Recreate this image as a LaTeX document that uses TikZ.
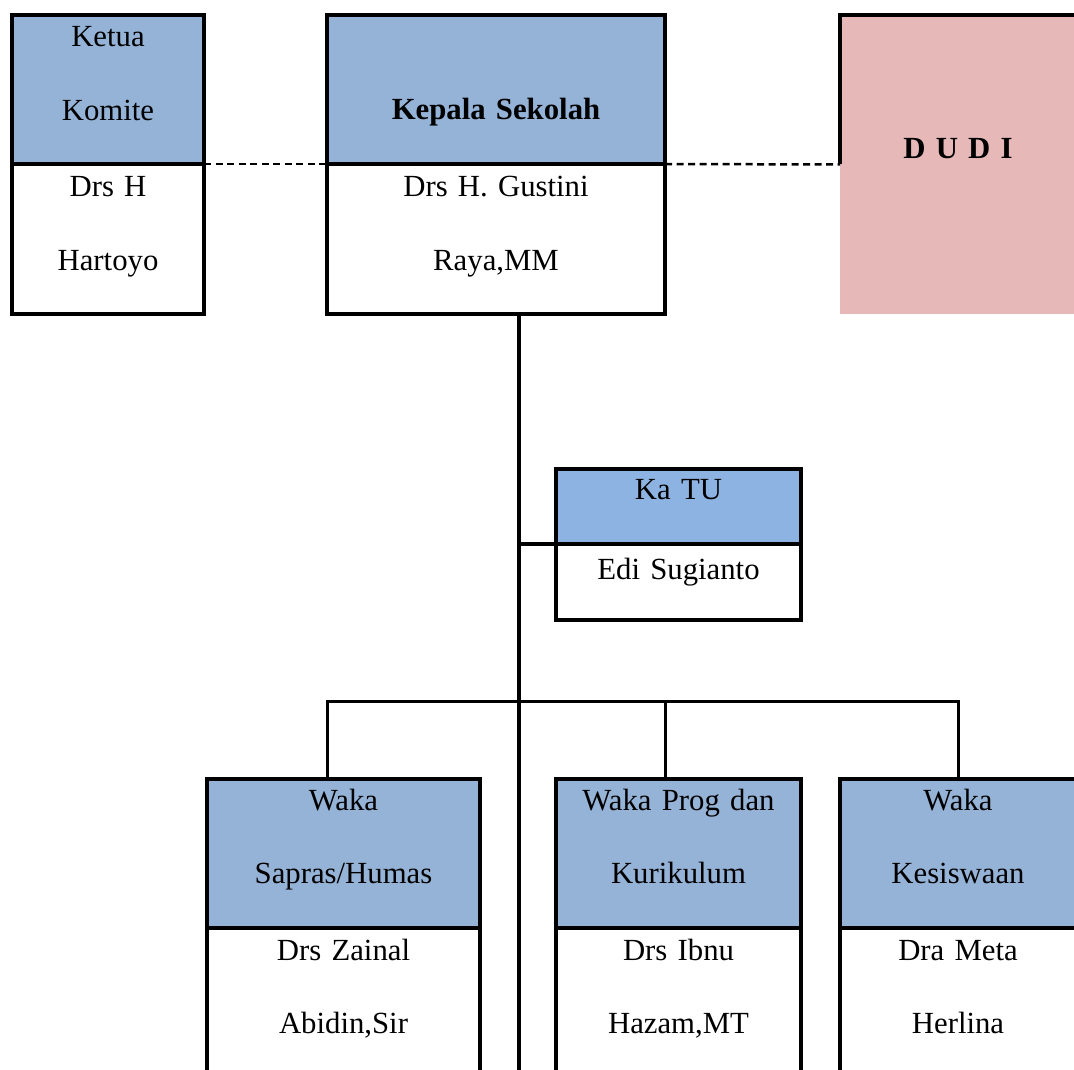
\documentclass[tikz,border=0pt]{standalone}
\usepackage{fontspec}
\setmainfont{Liberation Serif}
\usepackage{tikz}
\usetikzlibrary{positioning,calc}
\usepackage{xcolor}

\newlength{\px}
\setlength{\px}{0.02cm}
\definecolor{jabatan}{RGB}{149,179,215}
\definecolor{jabatantu}{RGB}{141,179,226}
\definecolor{mitra}{RGB}{230,184,183}

\begin{document}
\begin{tikzpicture}[
    x=0.02cm, y=-0.02cm,
    node distance=0pt,
    judul/.style={rectangle,draw,line width=4\px,inner sep=0pt,outer sep=0pt,
                fill=jabatan,minimum height=149\px},
    isi/.style={rectangle,draw,line width=3.5\px,inner sep=0pt,outer sep=0pt,
                fill=white,minimum height=150\px},
    teks/.style={anchor=base,inner sep=0pt,align=center,text width=#1,
                font=\fontsize{17.5}{42}\selectfont},
    garis/.style={line width=4\px},
    bus/.style={line width=3\px},
    putus/.style={line width=2.5\px,dash pattern=on 7\px off 4.5\px}
  ]
    \useasboundingbox (0,0) rectangle (1074,1070);
    \clip (0,0) rectangle (1074,1070);

    % baris atas
    \node[judul,minimum width=192\px,anchor=north] (komitejud) at (108,15) {};
    \node[isi,minimum width=192\px,below=of komitejud] (komiteisi) {};
    \node[judul,minimum width=338\px,anchor=north] (kepsekjud) at (496,15) {};
    \node[isi,minimum width=338\px,below=of kepsekjud] (kepsekisi) {};
    \node[rectangle,fill=mitra,inner sep=0pt,outer sep=0pt,anchor=north west,
          minimum width=240\px,minimum height=299\px] (dudi) at (840,15) {};
    \draw[garis] (dudi.west) -- (dudi.north west) -- (dudi.north east);

    \node[teks=192\px] (komitejab) at ($(komitejud.north)+(0,32)$) {Ketua\\Komite};
    \node[teks=192\px] (komitenama) at ($(komiteisi.north)+(0,33)$) {Drs H\\Hartoyo};
    \node[teks=338\px] (kepsekjab) at ($(kepsekjud.north)+(0,105)$) {\textbf{Kepala Sekolah}};
    \node[teks=338\px] (kepseknama) at ($(kepsekisi.north)+(0,33)$) {Drs H. Gustini\\Raya,MM};
    \node[teks=236\px] (dudijab) at (958,159) {\textbf{D U D I}};

    \draw[putus] (komitejud.south east) -- (kepsekjud.south west);
    \draw[putus] (kepsekjud.south east) -- (dudi.west);

    % garis komando
    \coordinate (ujung) at (519,1075);
    \coordinate (cabang) at (519,701);
    \draw[garis] (kepsekisi.south -| ujung) -- (ujung);

    % ka tu
    \node[judul,fill=jabatantu,minimum width=245\px,minimum height=75\px,
          anchor=north west] (tujud) at (556,469) {};
    \node[isi,minimum width=245\px,minimum height=76\px,below=of tujud] (tuisi) {};
    \node[teks=245\px] (tujab) at ($(tujud.north)+(0,31)$) {Ka TU};
    \node[teks=245\px] (tunama) at ($(tuisi.north)+(0,35)$) {Edi Sugianto};
    \draw[garis] (tujud.south west) -- (tujud.south west -| ujung);

    % baris waka
    \draw[bus] (kepsekjud.west |- 0,779) -- (cabang -| kepsekjud.west)
               -- (cabang -| 958,0) -- (958,779);
    \draw[bus] (kepsekjud.east |- 0,779) -- (cabang -| kepsekjud.east);

    \node[judul,minimum width=273\px,anchor=north] (saprasjud) at (343.5,779) {};
    \node[isi,minimum width=273\px,minimum height=200\px,below=of saprasjud] (saprasisi) {};
    \node[judul,minimum width=245\px,anchor=north] (progjud) at (678.5,779) {};
    \node[isi,minimum width=245\px,minimum height=200\px,below=of progjud] (progisi) {};
    \node[judul,minimum width=236\px,anchor=north] (kesisjud) at (958,779) {};
    \node[isi,minimum width=236\px,minimum height=200\px,below=of kesisjud] (kesisisi) {};

    \node[teks=273\px] (saprasjab) at ($(saprasjud.north)+(0,31)$) {Waka\\Sapras/Humas};
    \node[teks=273\px] (saprasnama) at ($(saprasisi.north)+(0,32)$) {Drs Zainal\\Abidin,Sir};
    \node[teks=245\px] (progjab) at ($(progjud.north)+(0,31)$) {Waka Prog dan\\Kurikulum};
    \node[teks=245\px] (prognama) at ($(progisi.north)+(0,32)$) {Drs Ibnu\\Hazam,MT};
    \node[teks=236\px] (kesisjab) at ($(kesisjud.north)+(0,31)$) {Waka\\Kesiswaan};
    \node[teks=236\px] (kesisnama) at ($(kesisisi.north)+(0,32)$) {Dra Meta\\Herlina};
  \end{tikzpicture}
\end{document}
